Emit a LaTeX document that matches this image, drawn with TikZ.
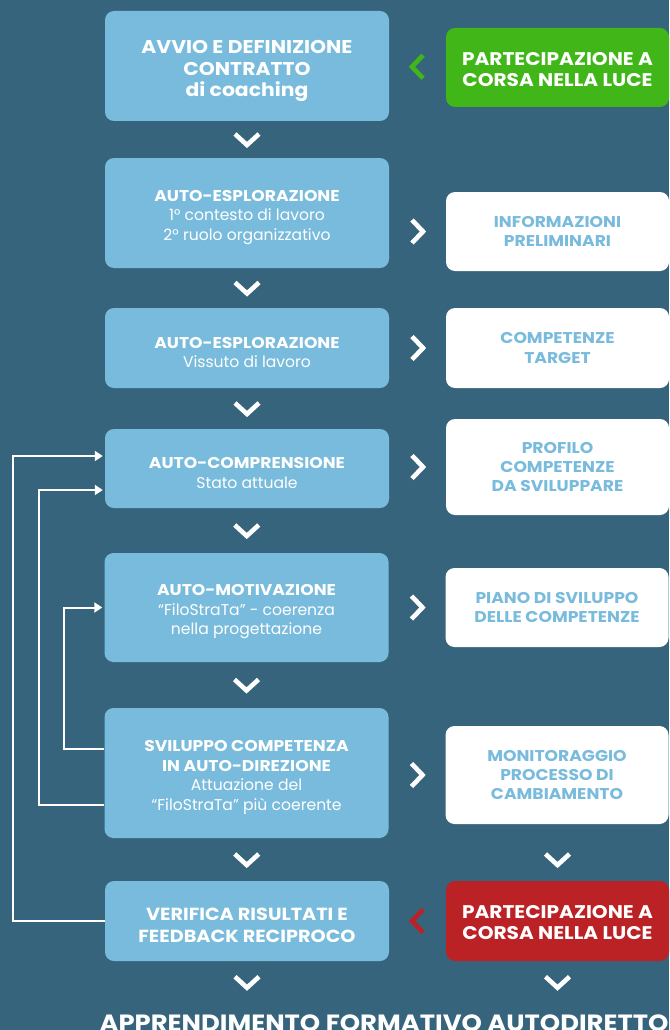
\documentclass[tikz,border=0pt]{standalone}
\usepackage{fontspec}
\setmainfont{Poppins}[BoldFeatures={FakeStretch=1.1}]
\usepackage{tikz}
\usetikzlibrary{calc,arrows.meta}

\definecolor{fondo}{HTML}{36647C}
\definecolor{cielo}{HTML}{79BBDC}
\definecolor{luce}{HTML}{41B619}
\definecolor{rosso}{HTML}{BB2226}

\newcommand{\alto}[1][20pt]{\rule{0pt}{#1}}

\tikzset{
  fase/.style={fill=cielo,rounded corners=9pt,minimum width=284pt,inner sep=2pt,
    align=center,text=white,font=\fontsize{15.6}{19.5}\selectfont},
  esito/.style={fill=white,rounded corners=9pt,minimum width=223pt,inner sep=2pt,
    align=center,text=cielo,font=\bfseries\fontsize{15.6}{19.3}\selectfont},
  corsa/.style={esito,text=white,font=\bfseries\fontsize{18.3}{21}\selectfont},
  chevcol/.store in=\chevcol, chevcol=white,
  chev/.style={-,draw=\chevcol,line width=4.6pt,miter limit=4},
  ritorno/.style={draw=white,line width=2pt,shorten >=2pt},
  chevdown/.pic={\draw[chev] (-12,-5.5) -- (0,5.5) -- (12,-5.5);},
  chevright/.pic={\draw[chev] (-5.5,-11.5) -- (5.5,0) -- (-5.5,11.5);},
  chevleft/.pic={\draw[chev] (5.5,-11.5) -- (-5.5,0) -- (5.5,11.5);},
}

\begin{document}
\begin{tikzpicture}[x=1pt,y=-1pt,->,>={Triangle[length=8pt,width=10pt]},node distance=310.5pt]
		\useasboundingbox (0,0) rectangle (669,1030);
		\fill[fondo] (0,0) rectangle (669,1030);

		% colonna delle fasi
		\node[fase,minimum height=110pt,font=\bfseries\fontsize{18.5}{21.5}\selectfont] (n1) at (247,66)
			{\alto[24pt]AVVIO E DEFINIZIONE\\CONTRATTO\\di coaching};
		\node[fase,minimum height=110pt] (n2) at (247,213)
			{\alto\textbf{AUTO-ESPLORAZIONE}\\1° contesto di lavoro\\2° ruolo organizzativo};
		\node[fase,minimum height=80pt] (n3) at (247,348)
			{\alto\textbf{AUTO-ESPLORAZIONE}\\Vissuto di lavoro};
		\node[fase,minimum height=79pt] (n4) at (247,468.5)
			{\alto\textbf{AUTO-COMPRENSIONE}\\Stato attuale};
		\node[fase,minimum height=109pt] (n5) at (246.5,607.5)
			{\alto\textbf{AUTO-MOTIVAZIONE}\\“FiloStraTa” - coerenza\\nella progettazione};
		\node[fase,minimum height=130pt] (n6) at (246.5,773)
			{\alto\textbf{SVILUPPO COMPETENZA}\\\textbf{IN AUTO-DIREZIONE}\\Attuazione del\\“FiloStraTa” più coerente};
		\node[fase,minimum height=80pt,font=\bfseries\fontsize{17.5}{22}\selectfont] (n7) at (247,921)
			{\alto[22pt]VERIFICA RISULTATI E\\FEEDBACK RECIPROCO};

		% colonna degli esiti
		\node[corsa,fill=luce,minimum height=79pt] (s1) [right of=n1,yshift=-1.5pt]
			{\alto[17pt]PARTECIPAZIONE A\\CORSA NELLA LUCE};
		\node[esito,minimum height=79pt] (s2) [right of=n2,yshift=-18.5pt]
			{INFORMAZIONI\\PRELIMINARI};
		\node[esito,minimum height=80pt] (s3) [right of=n3] {COMPETENZE\\TARGET};
		\node[esito,minimum height=96pt] (s4) [right of=n4,yshift=1.5pt]
			{PROFILO\\COMPETENZE\\DA SVILUPPARE};
		\node[esito,minimum height=79pt] (s5) [right of=n5] {PIANO DI SVILUPPO\\DELLE COMPETENZE};
		\node[esito,minimum height=98pt] (s6) [right of=n6,yshift=-2pt]
			{MONITORAGGIO\\PROCESSO DI\\CAMBIAMENTO};
		\node[corsa,fill=rosso,minimum height=80pt] (s7) [right of=n7]
			{\alto[17pt]PARTECIPAZIONE A\\CORSA NELLA LUCE};

		\node[text=white,font=\bfseries\fontsize{23.5}{26}\selectfont,anchor=base] (fine) at (384,1031)
			{APPRENDIMENTO FORMATIVO AUTODIRETTO};

		% frecce a V
		\pic at ($(n1.south)!0.5!(n2.north)$) {chevdown};
		\pic at ($(n2.south)!0.5!(n3.north)$) {chevdown};
		\pic at ($(n3.south)!0.5!(n4.north)$) {chevdown};
		\pic at ($(n4.south)!0.5!(n5.north)$) {chevdown};
		\pic at ($(n5.south)!0.5!(n6.north)$) {chevdown};
		\coordinate (v6) at ($(n6.south)!0.5!(n7.north)$);
		\pic at (v6) {chevdown};
		\pic at (v6 -| s7) {chevdown};
		\pic at ([yshift=-21pt]n7.south) {chevdown};
		\pic at ([yshift=-21pt]s7.south) {chevdown};

		\pic[chevcol=luce] at ($(n1.east)!0.5!(s1.west)$) {chevleft};
		\pic at ($(n2.east |- s2.west)!0.5!(s2.west)$) {chevright};
		\pic at ($(n3.east |- s3.west)!0.5!(s3.west)$) {chevright};
		\pic at ($(n4.east |- s4.west)!0.5!(s4.west)$) {chevright};
		\pic at ($(n5.east |- s5.west)!0.5!(s5.west)$) {chevright};
		\pic at ($(n6.east |- s6.west)!0.5!(s6.west)$) {chevright};
		\pic[chevcol=rosso] at ($(n7.east |- s7.west)!0.5!(s7.west)$) {chevleft};

		% ritorni
		\coordinate (c1) at (13,0);
		\coordinate (c2) at (39,0);
		\coordinate (c3) at (64,0);
		\draw[ritorno] (n7.west) -- (n7.west -| c1) |- ([yshift=12.5pt]n4.west);
		\draw[ritorno] ([yshift=-32pt]n6.west) -- ([yshift=-32pt]n6.west -| c2) |- ([yshift=-21.5pt]n4.west);
		\draw[ritorno] ([yshift=24pt]n6.west) -- ([yshift=24pt]n6.west -| c3) |- (n5.west);
		\end{tikzpicture}
\end{document}
